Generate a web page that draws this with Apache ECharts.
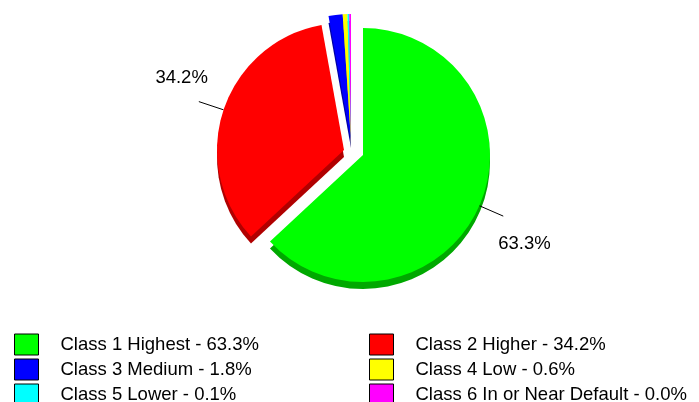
<!DOCTYPE html>
<html>
<head>
<meta charset="utf-8">
<script src="https://cdn.jsdelivr.net/npm/echarts@6/dist/echarts.min.js"></script>
<style>
  html, body { margin: 0; padding: 0; background: #fff; }
  #chart { width: 699px; height: 402px; }
</style>
</head>
<body>
<div id="chart"></div>
<script>
// data
const classNames = ['Class 1 Highest', 'Class 2 Higher', 'Class 3 Medium', 'Class 4 Low', 'Class 5 Lower', 'Class 6 In or Near Default']
const classValues = [63.3, 34.2, 1.8, 0.6, 0.1, 0.03]
const classColors = ['#00ff00', '#ff0000', '#0000ff', '#ffff00', '#00ffff', '#ff00ff']
const sideColors = ['#00a800', '#b00000', '#0000a8', '#a8a800', '#00a8a8', '#a800a8']
const labelled = [0, 1]

// which slices are pulled out together, and where each group sits
const groups = [
  { items: [0], center: [363, 155] },
  { items: [1], center: [344, 150] },
  { items: [2, 3, 4, 5], center: [351, 141] }
]

const radius = 127
const depth = 7
const font = 'Liberation Sans, Arial, sans-serif'

const fmtPct = (v) => v.toFixed(1) + '%'

// label nudges (dx, dy) per class
const labelShift = { 0: { dx: -10, dy: 28 }, 1: { dx: 14, dy: -24 } }

// 构建一个饼图系列（顶面或侧面）
const buildSeries = (group, side) => {
  const data = classNames.map((name, i) => {
    const inGroup = group.items.includes(i)
    const showLabel = !side && inGroup && labelled.includes(i)
    return {
      name,
      value: classValues[i],
      itemStyle: {
        color: inGroup ? (side ? sideColors[i] : classColors[i]) : 'rgba(0,0,0,0)',
        borderWidth: 0
      },
      label: { show: showLabel },
      labelLine: { show: showLabel }
    }
  })
  return {
    type: 'pie',
    silent: true,
    animation: false,
    clockwise: true,
    startAngle: 90,
    minAngle: 0.8,
    radius: [0, radius],
    center: [group.center[0], group.center[1] + (side ? depth : 0)],
    z: side ? 1 : 2,
    avoidLabelOverlap: false,
    label: {
      position: 'outside',
      color: '#000',
      fontSize: 18.5,
      fontFamily: font,
      formatter: (p) => fmtPct(p.value)
    },
    labelLine: {
      length: 26,
      length2: 0,
      lineStyle: { color: '#000', width: 1 }
    },
    labelLayout: (p) => labelShift[p.dataIndex] || {},
    emphasis: { disabled: true },
    data
  }
}

const series = []
groups.forEach(g => series.push(buildSeries(g, true)))
groups.forEach(g => series.push(buildSeries(g, false)))

const legendItem = (i) => ({
  name: classNames[i],
  itemStyle: { color: classColors[i], borderColor: '#000', borderWidth: 1 }
})

const legendBase = {
  orient: 'vertical',
  top: 331,
  height: 100,
  padding: 0,
  itemWidth: 24,
  itemHeight: 21,
  itemGap: -2,
  icon: 'rect',
  selectedMode: false,
  formatter: (name) => name + ' - ' + fmtPct(classValues[classNames.indexOf(name)]),
  textStyle: {
    color: '#000',
    fontSize: 18.5,
    fontFamily: font,
    lineHeight: 21,
    padding: [6, 0, 0, 17]
  }
}

const chart = echarts.init(document.getElementById('chart'))
chart.setOption({
  backgroundColor: '#fff',
  animation: false,
  legend: [
    Object.assign({}, legendBase, { left: 14, data: [0, 2, 4].map(legendItem) }),
    Object.assign({}, legendBase, { left: 369, data: [1, 3, 5].map(legendItem) })
  ],
  series
})
</script>
</body>
</html>
